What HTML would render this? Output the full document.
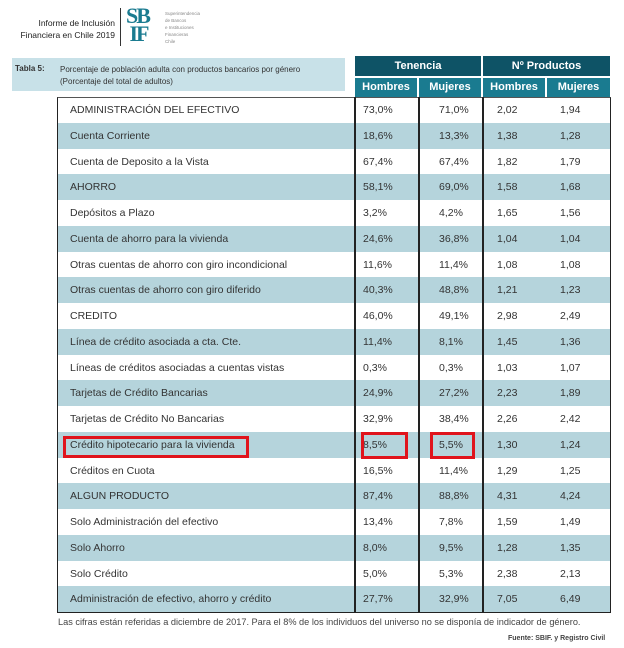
<!DOCTYPE html><html><head><style>
body{margin:0;width:624px;height:648px;background:#fff;position:relative;font-family:"Liberation Sans",sans-serif;color:#333;overflow:hidden}
.a{position:absolute;white-space:nowrap}
.r{position:absolute;left:58px;width:552px;height:25.75px;font-size:10.5px;line-height:27.5px}
.r.s{background:#b5d4dc}
.r span{position:absolute}
.vl{position:absolute;top:97px;height:515px;width:1.5px;background:#222}
.h{position:absolute;background:#0e5366;color:#fff;font-weight:bold;font-size:11px;text-align:center}
.h2{background:#1a7b90}
.red{position:absolute;border:3px solid #e0141c;box-sizing:border-box}
</style></head><body>
<div class="a" style="left:15px;top:17px;width:100px;text-align:right;font-size:8.5px;line-height:12px;color:#222">Informe de Inclusión<br>Financiera en Chile 2019</div>
<div class="a" style="left:120px;top:8px;width:1px;height:38px;background:#333"></div>
<div class="a" style="left:126px;top:7px;font-size:22px;line-height:18px;font-weight:bold;color:#1a7b90;font-family:'Liberation Serif',serif;letter-spacing:-2px">SB<br>&nbsp;IF</div>
<div class="a" style="left:165px;top:10px;font-size:4.5px;line-height:7px;color:#888">Superintendencia<br>de Bancos<br>e Instituciones<br>Financieras<br>Chile</div>
<div class="a" style="left:12px;top:58px;width:333px;height:33px;background:#c8e1e8"></div>
<div class="a" style="left:15px;top:64px;font-size:8px;font-weight:bold;color:#333">Tabla 5:</div>
<div class="a" style="left:60px;top:64px;font-size:8px;line-height:12px;color:#333">Porcentaje de población adulta con productos bancarios por género<br>(Porcentaje del total de adultos)</div>
<div class="h" style="left:355px;top:56px;width:126px;height:20px;line-height:20px">Tenencia</div>
<div class="h" style="left:483px;top:56px;width:127px;height:20px;line-height:20px">Nº Productos</div>
<div class="h h2" style="left:355px;top:78px;width:62px;height:19px;line-height:19px">Hombres</div>
<div class="h h2" style="left:419px;top:78px;width:62px;height:19px;line-height:19px">Mujeres</div>
<div class="h h2" style="left:483px;top:78px;width:62px;height:19px;line-height:19px">Hombres</div>
<div class="h h2" style="left:547px;top:78px;width:63px;height:19px;line-height:19px">Mujeres</div>
<div id="rows"></div>
<script>
var d=[["ADMINISTRACIÓN DEL EFECTIVO","73,0%","71,0%","2,02","1,94"],["Cuenta Corriente","18,6%","13,3%","1,38","1,28"],["Cuenta de Deposito a la Vista","67,4%","67,4%","1,82","1,79"],["AHORRO","58,1%","69,0%","1,58","1,68"],["Depósitos a Plazo","3,2%","4,2%","1,65","1,56"],["Cuenta de ahorro para la vivienda","24,6%","36,8%","1,04","1,04"],["Otras cuentas de ahorro con giro incondicional","11,6%","11,4%","1,08","1,08"],["Otras cuentas de ahorro con giro diferido","40,3%","48,8%","1,21","1,23"],["CREDITO","46,0%","49,1%","2,98","2,49"],["Línea de crédito asociada a cta. Cte.","11,4%","8,1%","1,45","1,36"],["Líneas de créditos asociadas a cuentas vistas","0,3%","0,3%","1,03","1,07"],["Tarjetas de Crédito Bancarias","24,9%","27,2%","2,23","1,89"],["Tarjetas de Crédito No Bancarias","32,9%","38,4%","2,26","2,42"],["Crédito hipotecario para la vivienda","8,5%","5,5%","1,30","1,24"],["Créditos en Cuota","16,5%","11,4%","1,29","1,25"],["ALGUN PRODUCTO","87,4%","88,8%","4,31","4,24"],["Solo Administración del efectivo","13,4%","7,8%","1,59","1,49"],["Solo Ahorro","8,0%","9,5%","1,28","1,35"],["Solo Crédito","5,0%","5,3%","2,38","2,13"],["Administración de efectivo, ahorro y crédito","27,7%","32,9%","7,05","6,49"]];
var h="";d.forEach(function(r,i){h+='<div class="r'+(i%2?' s':'')+'" style="top:'+(97+i*25.75)+'px"><span style="left:12px">'+r[0]+'</span><span style="left:305px">'+r[1]+'</span><span style="left:381px">'+r[2]+'</span><span style="left:439px">'+r[3]+'</span><span style="left:502px">'+r[4]+'</span></div>';});
document.getElementById("rows").innerHTML=h;
</script>
<div class="a" style="left:57px;top:97px;width:552px;height:514px;border:1.5px solid #222;border-top:1px solid #555"></div>
<div class="vl" style="left:354px"></div><div class="vl" style="left:418px"></div><div class="vl" style="left:482px"></div>
<div class="red" style="left:63px;top:436px;width:186px;height:22px"></div>
<div class="red" style="left:361px;top:432px;width:47px;height:27px"></div>
<div class="red" style="left:430px;top:432px;width:45px;height:27px"></div>
<div class="a" style="left:58px;top:617px;font-size:9.2px;color:#444">Las cifras están referidas a diciembre de 2017. Para el 8% de los individuos del universo no se disponía de indicador de género.</div>
<div class="a" style="left:508px;top:635px;font-size:7px;font-weight:bold;color:#444">Fuente: SBIF. y Registro Civil</div>
</body></html>
